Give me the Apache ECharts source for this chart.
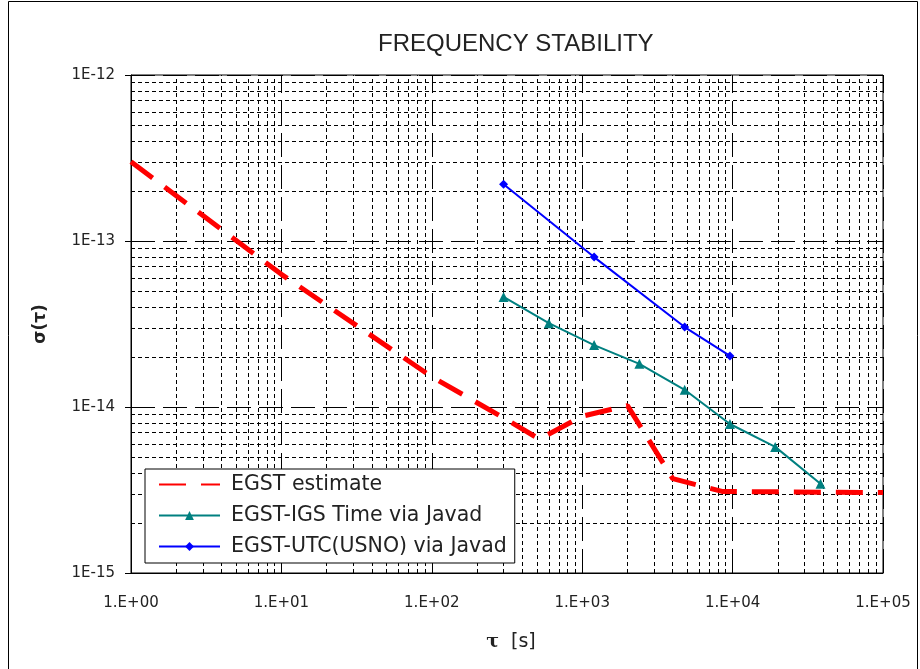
<!DOCTYPE html>
<html>
<head>
<meta charset="utf-8">
<script src="https://cdn.jsdelivr.net/npm/echarts@6/dist/echarts.min.js"></script>
<style>
  html, body { margin: 0; padding: 0; background: #fff; }
  #chartArea { width: 920px; height: 669px; }
</style>
</head>
<body>
<div id="chartArea"></div>
<script>
// EGST estimate (tau [s], sigma)
var estTau = [1, 10, 100, 300, 520, 1000, 2000, 4000, 8500, 100000];
var estSigma = [3.0e-13, 6.3e-14, 1.52e-14, 8.6e-15, 6.4e-15, 8.8e-15, 1.02e-14, 3.7e-15, 3.1e-15, 3.05e-15];

// EGST-IGS Time via Javad
var igsTau = [300, 600, 1200, 2400, 4800, 9600, 19200, 38400];
var igsSigma = [4.6e-14, 3.2e-14, 2.36e-14, 1.82e-14, 1.27e-14, 7.9e-15, 5.75e-15, 3.45e-15];

// EGST-UTC(USNO) via Javad
var usnoTau = [300, 1200, 4800, 9600];
var usnoSigma = [2.2e-13, 8.0e-14, 3.03e-14, 2.03e-14];

var seriesNames = ['EGST estimate', 'EGST-IGS Time via Javad', 'EGST-UTC(USNO) via Javad'];

var xDecades = [0, 1, 2, 3, 4, 5];      // 1 .. 1e5
var yDecades = [-15, -14, -13, -12];    // 1e-15 .. 1e-12

function pairs(xs, ys) {
    var out = [];
    for (var i = 0; i < xs.length; i++) out.push([xs[i], ys[i]]);
    return out;
}

// grid lines (Excel style: long dashes on decades, short dashes in between)
var gridMajor = [], gridMinor = [];
xDecades.forEach(function (e) {
    gridMajor.push({xAxis: Math.pow(10, e)});
    if (e < 5) for (var k = 2; k <= 9; k++) gridMinor.push({xAxis: k * Math.pow(10, e)});
});
yDecades.forEach(function (e) {
    gridMajor.push({yAxis: Math.pow(10, e)});
    if (e < -12) for (var k = 2; k <= 9; k++) gridMinor.push({yAxis: k * Math.pow(10, e)});
});

function expOf(v) { return Math.round(Math.log(v) / Math.LN10); }

var hideDot = {color: 'rgba(0,0,0,0)', borderWidth: 0};

var option = {
    backgroundColor: '#fff',
    animation: false,
    textStyle: {fontFamily: 'DejaVu Sans', color: '#222'},
    title: {
        text: 'FREQUENCY STABILITY',
        left: 373,
        top: 27,
        textStyle: {fontFamily: 'Liberation Sans', fontSize: 24, fontWeight: 'normal', color: '#222'}
    },
    graphic: [{
        type: 'rect',
        shape: {x: 8.5, y: 1.5, width: 909, height: 700},
        style: {fill: null, stroke: '#000', lineWidth: 1},
        silent: true
    }],
    grid: {
        left: 131, top: 75, right: 37, bottom: 96,
        show: true, borderColor: '#000', borderWidth: 1
    },
    legend: {
        data: [
            {name: seriesNames[0], itemStyle: hideDot},
            {name: seriesNames[1]},
            {name: seriesNames[2]}
        ],
        orient: 'vertical',
        left: 145,
        top: 469,
        z: 20,
        padding: [5, 8, 6, 13],
        itemGap: 10,
        itemWidth: 61,
        itemHeight: 11,
        backgroundColor: '#fff',
        borderColor: '#000',
        borderWidth: 1,
        borderRadius: 0,
        textStyle: {fontFamily: 'DejaVu Sans', fontSize: 20.5, lineHeight: 20, color: '#222', padding: [0, 0, 0, 6]}
    },
    xAxis: {
        type: 'log',
        logBase: 10,
        min: 1,
        max: 100000,
        name: '{t|τ}{u|[s]}',
        nameLocation: 'middle',
        nameGap: 60,
        nameTextStyle: {
            rich: {
                t: {fontFamily: 'DejaVu Serif', fontWeight: 'bold', fontSize: 19, color: '#222', padding: [0, 0, 0, 8]},
                u: {fontFamily: 'DejaVu Sans', fontSize: 19, color: '#222', padding: [0, 0, 0, 12]}
            }
        },
        axisLine: {show: true, lineStyle: {color: '#000', width: 1}},
        axisTick: {show: false},
        splitLine: {show: false},
        axisLabel: {
            margin: 23,
            fontSize: 15,
            color: '#222',
            formatter: function (v) {
                var e = expOf(v);
                return '1.E+' + (e < 10 ? '0' : '') + e;
            }
        }
    },
    yAxis: {
        type: 'log',
        logBase: 10,
        min: 1e-15,
        max: 1e-12,
        name: 'σ(τ)',
        nameLocation: 'middle',
        nameRotate: 90,
        nameGap: 82,
        nameTextStyle: {fontFamily: 'DejaVu Sans', fontWeight: 'bold', fontSize: 17, color: '#222'},
        axisLine: {show: true, lineStyle: {color: '#000', width: 1}},
        axisTick: {show: true, inside: false, length: 6, lineStyle: {color: '#000'}},
        splitLine: {show: false},
        axisLabel: {
            margin: 16,
            fontSize: 15,
            color: '#222',
            formatter: function (v) { return '1E' + expOf(v); }
        }
    },
    series: [
        {
            name: 'grid-minor',
            type: 'line',
            data: [],
            silent: true,
            z: 1,
            markLine: {
                silent: true,
                z: 1,
                symbol: 'none',
                precision: 20,
                label: {show: false},
                animation: false,
                lineStyle: {color: '#000', width: 1, type: [4, 3]},
                data: gridMinor
            }
        },
        {
            name: 'grid-major',
            type: 'line',
            data: [],
            silent: true,
            z: 1,
            markLine: {
                silent: true,
                z: 1,
                symbol: 'none',
                precision: 20,
                label: {show: false},
                animation: false,
                lineStyle: {color: '#000', width: 1, type: [24, 8]},
                data: gridMajor
            }
        },
        {
            name: seriesNames[0],
            type: 'line',
            data: pairs(estTau, estSigma),
            showSymbol: false,
            symbol: 'none',
            z: 5,
            itemStyle: {color: '#ff0000'},
            lineStyle: {color: '#ff0000', width: 5, type: [27, 15]}
        },
        {
            name: seriesNames[1],
            type: 'line',
            data: pairs(igsTau, igsSigma),
            symbol: 'triangle',
            symbolSize: 10,
            z: 6,
            itemStyle: {color: '#008080'},
            lineStyle: {color: '#008080', width: 2}
        },
        {
            name: seriesNames[2],
            type: 'line',
            data: pairs(usnoTau, usnoSigma),
            symbol: 'diamond',
            symbolSize: 9,
            z: 6,
            itemStyle: {color: '#0000ff'},
            lineStyle: {color: '#0000ff', width: 2}
        }
    ]
};

var myChart = echarts.init(document.getElementById('chartArea'));
myChart.setOption(option);
</script>
</body>
</html>
